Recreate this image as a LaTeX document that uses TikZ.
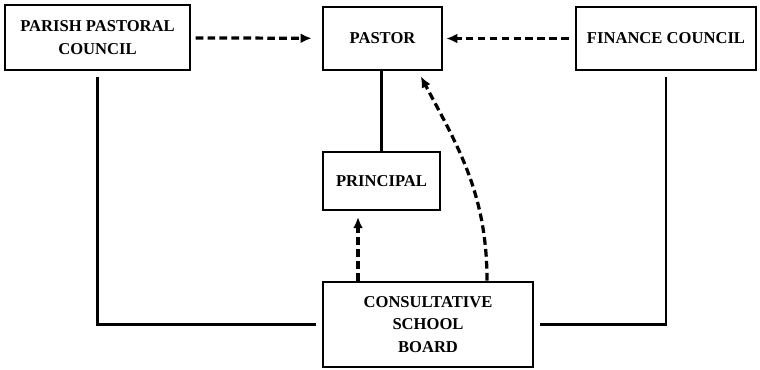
\documentclass[tikz,border=0pt]{standalone}
\usepackage{fontspec}
\setmainfont{Liberation Serif}
\usepackage{tikz}
\usetikzlibrary{positioning,arrows.meta}

\begin{document}
\begin{tikzpicture} [box/.style={draw, black, line width=1.9pt, align=center, font=\bfseries\fontsize{11.8}{16}\selectfont, inner sep=2pt},
		link/.style={black, line width=1.6pt},
		dasharrow/.style={black, line width=2.3pt, dash pattern=on 5.5pt off 3pt, -{Latex[length=8pt,width=7pt]}}]
				\useasboundingbox (0, 0) rectangle (19, -9.225);
				\node [box, minimum width=4.625cm, minimum height=1.625cm] (ppc) at (2.4375, -0.94) {PARISH PASTORAL\\COUNCIL};
				\node [box, minimum width=2.975cm, minimum height=1.575cm] (pastor) at (9.5625, -0.9625) {PASTOR};
				\node [box, minimum width=4.5cm, minimum height=1.575cm] (finance) at (16.65, -0.9625) {FINANCE COUNCIL};
				\node [box, minimum width=2.925cm, minimum height=1.45cm] (principal) at (9.5375, -4.525) {PRINCIPAL};
				\node [box, minimum width=5.25cm, minimum height=2.125cm] (csb) at (10.7, -8.11) {CONSULTATIVE\\SCHOOL\\BOARD};
				\draw [link, line width=2.4pt] (principal.north)--(principal.north |- pastor.south);
				\draw [link, shorten <=4pt, shorten >=4pt] (ppc.south)|-(csb.west);
				\draw [link, shorten <=4pt, shorten >=4pt] (finance.south)|-(csb.east);
				\draw [dasharrow, shorten <=3pt, shorten >=7pt] (ppc)--(pastor);
				\draw [dasharrow, shorten <=4pt, shorten >=2pt] (finance)--(pastor);
				\draw [dasharrow, shorten >=4pt] ([xshift=-1.75cm]csb.north)--([xshift=-1.75cm]csb.north |- principal.south);
				\draw [dasharrow, shorten >=4pt] ([xshift=1.475cm]csb.north) to[out=90, in=-62] ([xshift=0.89cm]pastor.south);

			\end{tikzpicture}
\end{document}
